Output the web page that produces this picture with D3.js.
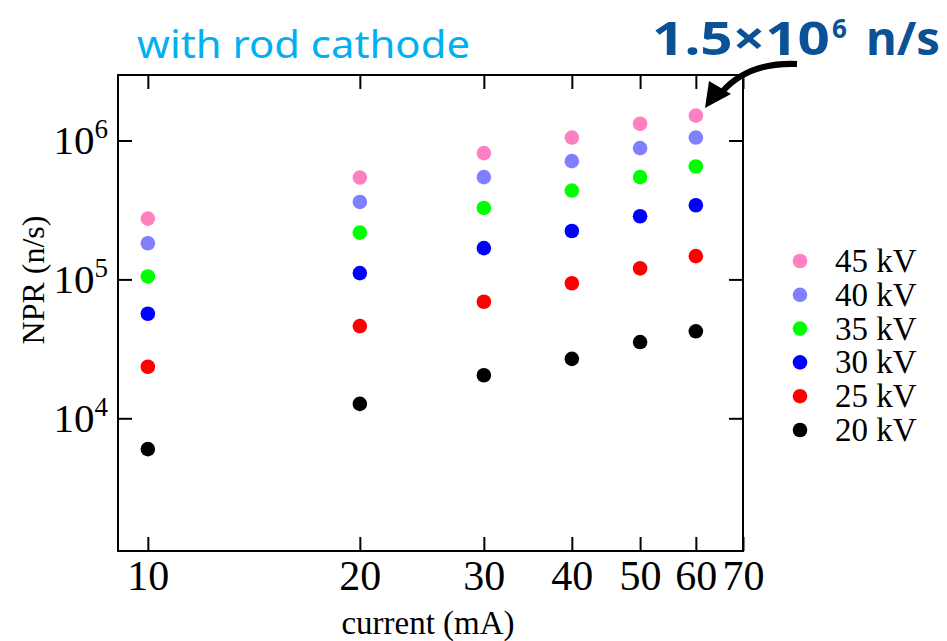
<!DOCTYPE html>
<html>
<head>
<meta charset="utf-8">
<script src="https://cdn.jsdelivr.net/npm/d3@7"></script>
<style>
  body { margin: 0; background: #fff; }
  svg { display: block; }
</style>
</head>
<body>
<div id="chart"></div>
<script>
// data
var currents = [10, 20, 30, 40, 50, 60]
var voltages = ["45 kV", "40 kV", "35 kV", "30 kV", "25 kV", "20 kV"]
var colors = ["#ff80c0", "#8080ff", "#00ff00", "#0000ff", "#ff0000", "#000000"]
var npr45 = [2.74e5, 5.41e5, 8.11e5, 1.05e6, 1.32e6, 1.51e6]
var npr40 = [1.82e5, 3.61e5, 5.45e5, 7.10e5, 8.81e5, 1.05e6]
var npr35 = [1.05e5, 2.17e5, 3.27e5, 4.36e5, 5.45e5, 6.50e5]
var npr30 = [5.66e4, 1.11e5, 1.68e5, 2.23e5, 2.85e5, 3.42e5]
var npr25 = [2.35e4, 4.61e4, 6.90e4, 9.38e4, 1.20e5, 1.47e5]
var npr20 = [6.0e3, 1.27e4, 2.04e4, 2.68e4, 3.54e4, 4.23e4]
var xTicks = [10, 20, 30, 40, 50, 60, 70]
var yTicks = [1e4, 1e5, 1e6]

var series = [npr45, npr40, npr35, npr30, npr25, npr20]

var dims = {
    width: 947,
    height: 641,
    left: 118, right: 743, top: 75, bottom: 551
}

var svg = d3.select("#chart").append("svg")
    .attr("width", dims.width)
    .attr("height", dims.height)

var x = d3.scaleLog().domain([9.07, 70]).range([dims.left, dims.right])
var y = d3.scaleLog().domain([1.108e3, 2.962e6]).range([dims.bottom, dims.top])

var serif = "'Liberation Serif', 'Times New Roman', serif"

// axes, ticks point inward
var xAxisB = svg.append("g")
    .attr("transform", `translate(0,${dims.bottom})`)
    .call(d3.axisBottom(x).tickValues(xTicks).tickSize(-14).tickPadding(9).tickFormat(d3.format("d")))
var xAxisT = svg.append("g")
    .attr("transform", `translate(0,${dims.top})`)
    .call(d3.axisTop(x).tickValues(xTicks).tickSize(-14).tickFormat(""))
var yAxisL = svg.append("g")
    .attr("transform", `translate(${dims.left},0)`)
    .call(d3.axisLeft(y).tickValues(yTicks).tickSize(-14).tickFormat(""))
var yAxisR = svg.append("g")
    .attr("transform", `translate(${dims.right},0)`)
    .call(d3.axisRight(y).tickValues(yTicks).tickSize(-14).tickFormat(""))

svg.selectAll(".domain").remove()
svg.selectAll(".tick line").attr("stroke", "#000").attr("stroke-width", 2)

xAxisB.selectAll(".tick text")
    .attr("fill", "#000")
    .style("font-family", serif)
    .style("font-size", "42px")

// y labels with superscript exponent
yAxisL.selectAll(".tick").each(function(d) {
    var t = d3.select(this).append("text")
        .attr("x", -10)
        .attr("dy", "0.32em")
        .attr("text-anchor", "end")
        .attr("fill", "#000")
        .style("font-family", serif)
        .style("font-size", "41px")
    t.append("tspan").text("10")
    t.append("tspan")
        .attr("dy", -16)
        .style("font-size", "27px")
        .text(Math.round(Math.log10(d)))
})

// frame
svg.append("rect")
    .attr("x", dims.left)
    .attr("y", dims.top)
    .attr("width", dims.right - dims.left)
    .attr("height", dims.bottom - dims.top)
    .attr("fill", "none")
    .attr("stroke", "#000")
    .attr("stroke-width", 2)

// points
series.forEach(function(vals, i) {
    svg.append("g")
        .selectAll("circle")
        .data(vals)
        .enter()
        .append("circle")
        .attr("cx", (d, j) => x(currents[j]))
        .attr("cy", d => y(d))
        .attr("r", 7.3)
        .attr("fill", colors[i])
})

// axis titles
svg.append("text")
    .attr("x", 428)
    .attr("y", 634)
    .attr("text-anchor", "middle")
    .style("font-family", serif)
    .style("font-size", "33px")
    .text("current (mA)")

svg.append("text")
    .attr("transform", "translate(44,280) rotate(-90)")
    .attr("text-anchor", "middle")
    .style("font-family", serif)
    .style("font-size", "32px")
    .text("NPR (n/s)")

// legend
var legend = svg.append("g")
voltages.forEach(function(v, i) {
    var cy = 261 + i * 33.8
    legend.append("circle")
        .attr("cx", 800)
        .attr("cy", cy)
        .attr("r", 7.3)
        .attr("fill", colors[i])
    legend.append("text")
        .attr("x", 835)
        .attr("y", cy + 11)
        .style("font-family", serif)
        .style("font-size", "33px")
        .text(v)
})

// title
svg.append("text")
    .attr("x", 137)
    .attr("y", 58)
    .attr("textLength", 333)
    .attr("lengthAdjust", "spacingAndGlyphs")
    .attr("fill", "#00b0f0")
    .style("font-family", "'Noto Sans', sans-serif")
    .style("font-size", "38px")
    .text("with rod cathode")

// annotation
var ann = svg.append("text")
    .attr("fill", "#0b5196")
    .style("font-family", "'Noto Sans', sans-serif")
    .style("font-weight", "bold")
    .style("font-size", "46px")
ann.append("tspan").attr("x", 652).attr("y", 55)
    .attr("textLength", 178).attr("lengthAdjust", "spacingAndGlyphs")
    .text("1.5\u00d710")
ann.append("tspan").attr("x", 832).attr("y", 38)
    .style("font-size", "26px")
    .text("6")
ann.append("tspan").attr("x", 866).attr("y", 55)
    .attr("textLength", 74).attr("lengthAdjust", "spacingAndGlyphs")
    .text("n/s")

// arrow
svg.append("path")
    .attr("d", "M797,64 Q748,62 722,92")
    .attr("fill", "none")
    .attr("stroke", "#000")
    .attr("stroke-width", 6)
svg.append("path")
    .attr("d", "M705,108 L709,81 L731,94 Z")
    .attr("fill", "#000")
</script>
</body>
</html>
